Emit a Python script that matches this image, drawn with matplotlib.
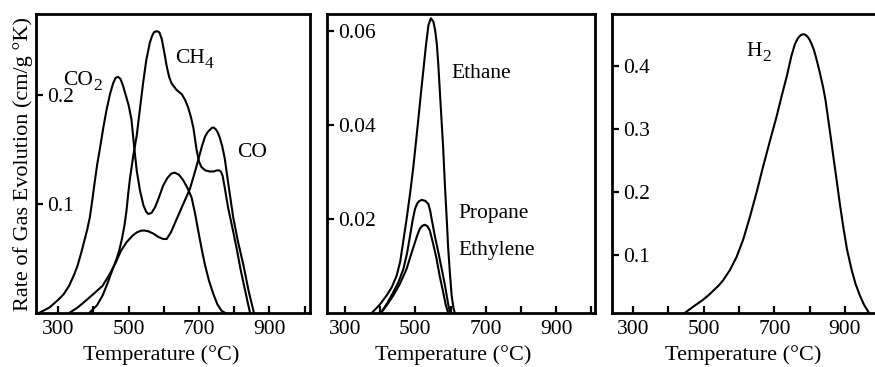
import matplotlib
matplotlib.use("Agg")
import matplotlib.pyplot as plt

plt.rcParams["font.family"] = ["Liberation Serif", "DejaVu Serif"]

# ---- Panel 1: CO2, CH4, CO ----
co2_t = [245, 275, 298, 315, 331, 345, 355, 366, 374, 382, 390, 397, 404, 411,
         418, 428, 437, 447, 456, 463, 470, 477, 484, 492, 500, 508, 516, 523,
         532, 542, 550, 556, 565, 575, 587, 598, 610, 621, 631, 643, 655, 667,
         679, 689, 698, 708, 717, 728, 740, 752, 764, 775]
co2_v = [0.0, 0.005, 0.0115, 0.017, 0.025, 0.035, 0.0435, 0.056, 0.066, 0.076,
         0.088, 0.104, 0.121, 0.137, 0.150, 0.170, 0.186, 0.201, 0.211, 0.216,
         0.217, 0.215, 0.209, 0.200, 0.191, 0.178, 0.152, 0.131, 0.113, 0.099,
         0.093, 0.091, 0.092, 0.097, 0.107, 0.117, 0.124, 0.128, 0.129, 0.127,
         0.122, 0.115, 0.106, 0.091, 0.075, 0.058, 0.044, 0.030, 0.018, 0.008,
         0.002, 0.0]

ch4_t = [388, 410, 426, 441, 455, 465, 473, 481, 488, 494, 499, 504, 513, 523,
         532, 541, 550, 560, 566, 572, 580, 587, 594, 601, 608, 615, 622, 636,
         651, 660, 669, 677, 684, 693, 700, 707, 718, 731, 741, 750, 757, 762,
         767, 772, 783, 795, 807, 818, 830, 838, 845]
ch4_v = [0.0, 0.007, 0.016, 0.028, 0.0405, 0.049, 0.057, 0.068, 0.080, 0.094,
         0.110, 0.124, 0.144, 0.163, 0.187, 0.211, 0.232, 0.248, 0.254, 0.258,
         0.259, 0.258, 0.252, 0.240, 0.227, 0.217, 0.211, 0.205, 0.201, 0.196,
         0.189, 0.180, 0.170, 0.150, 0.139, 0.134, 0.131, 0.130, 0.130, 0.131,
         0.131, 0.130, 0.126, 0.117, 0.096, 0.078, 0.059, 0.040, 0.022, 0.010,
         0.0]

co_t = [331, 355, 379, 402, 426, 445, 464, 478, 494, 511, 523, 535, 544, 555,
        570, 584, 598, 608, 620, 636, 655, 674, 686, 698, 708, 717, 724, 730,
        736, 741, 747, 753, 759, 766, 773, 783, 797, 811, 826, 841, 856]
co_v = [0.0, 0.005, 0.0115, 0.018, 0.025, 0.035, 0.0467, 0.057, 0.065, 0.071,
        0.074, 0.0756, 0.0758, 0.0752, 0.073, 0.070, 0.068, 0.068, 0.074, 0.086,
        0.100, 0.114, 0.127, 0.141, 0.153, 0.162, 0.166, 0.168, 0.170, 0.1705,
        0.169, 0.166, 0.161, 0.153, 0.142, 0.119, 0.088, 0.065, 0.044, 0.020,
        0.0]

# ---- Panel 2: ethane, propane, ethylene ----
ethane_t = [376, 398, 418, 433, 447, 457, 466, 475, 485, 494, 501, 508, 516,
            523, 530, 537, 544, 551, 556, 561, 565, 572, 579, 584, 589, 593,
            598, 603, 608, 612]
ethane_v = [0.0, 0.0017, 0.0037, 0.0055, 0.008, 0.011, 0.0155, 0.020, 0.0255,
            0.031, 0.036, 0.041, 0.047, 0.052, 0.057, 0.0613, 0.0628, 0.0621,
            0.0603, 0.0572, 0.053, 0.044, 0.035, 0.027, 0.020, 0.014, 0.0085,
            0.0037, 0.0011, 0.0]

propane_t = [402, 420, 437, 452, 466, 476, 485, 492, 499, 505, 510, 518, 528,
             537, 542, 546, 555, 565, 575, 584, 591, 598]
propane_v = [0.0, 0.0021, 0.0044, 0.0066, 0.0094, 0.0126, 0.0165, 0.0197,
             0.0222, 0.0233, 0.0238, 0.0241, 0.0239, 0.0232, 0.0218, 0.0201,
             0.0165, 0.013, 0.0093, 0.0059, 0.0028, 0.0]

ethylene_t = [402, 420, 437, 456, 475, 487, 499, 506, 513, 520, 527, 534, 541,
              550, 560, 569, 579, 586, 593]
ethylene_v = [0.0, 0.0018, 0.0037, 0.0062, 0.0094, 0.0123, 0.0151, 0.0167,
              0.018, 0.0186, 0.0188, 0.0185, 0.0176, 0.0149, 0.0116, 0.0079,
              0.0044, 0.0018, 0.0]

# ---- Panel 3: hydrogen ----
h2_t = [430, 446, 470, 498, 515, 530, 543, 555, 574, 593, 612, 631, 650, 668,
        687, 706, 722, 735, 748, 758, 765, 770, 776, 782, 788, 794, 800, 805,
        812, 818, 824, 830, 838, 845, 852, 860, 868, 876, 885, 895, 906, 919,
        930, 942, 954, 966, 978]
h2_v = [0.0, 0.008, 0.018, 0.029, 0.037, 0.045, 0.052, 0.060, 0.076, 0.097,
        0.125, 0.161, 0.200, 0.240, 0.280, 0.319, 0.355, 0.383, 0.415, 0.434,
        0.442, 0.446, 0.449, 0.450, 0.449, 0.446, 0.441, 0.435, 0.425, 0.413,
        0.400, 0.386, 0.366, 0.345, 0.317, 0.285, 0.252, 0.220, 0.183, 0.145,
        0.108, 0.076, 0.054, 0.036, 0.021, 0.010, 0.0]

x_ticks = [300, 400, 500, 600, 700, 800, 900, 1000]
x_tick_labels = ["300", "", "500", "", "700", "", "900", ""]

fig = plt.figure(figsize=(8.75, 3.67), dpi=100)
ax1 = fig.add_axes([0.04114, 0.1471, 0.3131, 0.8147])
ax2 = fig.add_axes([0.3737, 0.1471, 0.3063, 0.8147])
ax3 = fig.add_axes([0.6994, 0.1471, 0.3131, 0.8147])

LW = 1.5
FS_TICK = 15.5
FS_LABEL = 16
FS_NOTE = 15.5
FS_SUB = 12.5


def style(ax, xlim, ylim, yticks, ylabels, xlabel_x):
    ax.set_xlim(*xlim)
    ax.set_ylim(*ylim)
    ax.set_xticks(x_ticks)
    ax.set_xticklabels(x_tick_labels)
    ax.set_yticks(yticks)
    ax.set_yticklabels(ylabels)
    for s in ax.spines.values():
        s.set_linewidth(2.0)
    ax.tick_params(axis="x", direction="in", length=5, width=1.6,
                   labelsize=FS_TICK, pad=5)
    ax.tick_params(axis="y", direction="in", length=5, width=1.6,
                   labelsize=FS_TICK, pad=-8)
    for lab in ax.get_yticklabels():
        lab.set_horizontalalignment("left")
    ax.set_xlabel("Temperature (°C)", fontsize=FS_LABEL)
    ax.xaxis.set_label_coords(xlabel_x, -0.107)


renderer = fig.canvas.get_renderer()


def label_with_sub(ax, x, y, main, sub, drop=3.5):
    t = ax.text(x, y, main, fontsize=FS_NOTE, va="baseline")
    w = t.get_window_extent(renderer=renderer).width * 72.0 / fig.dpi
    ax.annotate(sub, xy=(x, y), xycoords="data", xytext=(w + 0.3, -drop),
                textcoords="offset points", fontsize=FS_SUB, va="baseline")


line_kw = dict(color="black", lw=LW, solid_joinstyle="round",
               solid_capstyle="round")

# Panel 1
ax1.plot(co2_t, co2_v, **line_kw)
ax1.plot(ch4_t, ch4_v, **line_kw)
ax1.plot(co_t, co_v, **line_kw)
style(ax1, (237, 1015), (0, 0.2747), [0.1, 0.2], ["0.1", "0.2"], 0.456)
ax1.set_ylabel("Rate of Gas Evolution (cm/g °K)", fontsize=FS_LABEL)
ax1.yaxis.set_label_coords(-0.012, 0.5)
label_with_sub(ax1, 313, 0.2098, "CO", "2")
label_with_sub(ax1, 631, 0.230, "CH", "4")
ax1.text(807, 0.143, "CO", fontsize=FS_NOTE, va="baseline")

# Panel 2
ax2.plot(ethane_t, ethane_v, **line_kw)
ax2.plot(propane_t, propane_v, **line_kw)
ax2.plot(ethylene_t, ethylene_v, **line_kw)
style(ax2, (249, 1010), (0, 0.0637), [0.02, 0.04, 0.06],
      ["0.02", "0.04", "0.06"], 0.470)
ax2.text(603, 0.050, "Ethane", fontsize=FS_NOTE, va="baseline")
ax2.text(621, 0.0202, "Propane", fontsize=FS_NOTE, va="baseline")
ax2.text(621, 0.0123, "Ethylene", fontsize=FS_NOTE, va="baseline")

# Panel 3
ax3.plot(h2_t, h2_v, **line_kw)
style(ax3, (240, 1016), (0.008, 0.482), [0.1, 0.2, 0.3, 0.4],
      ["0.1", "0.2", "0.3", "0.4"], 0.478)
label_with_sub(ax3, 621, 0.415, "H", "2")

fig.savefig("out.png", dpi=100)
